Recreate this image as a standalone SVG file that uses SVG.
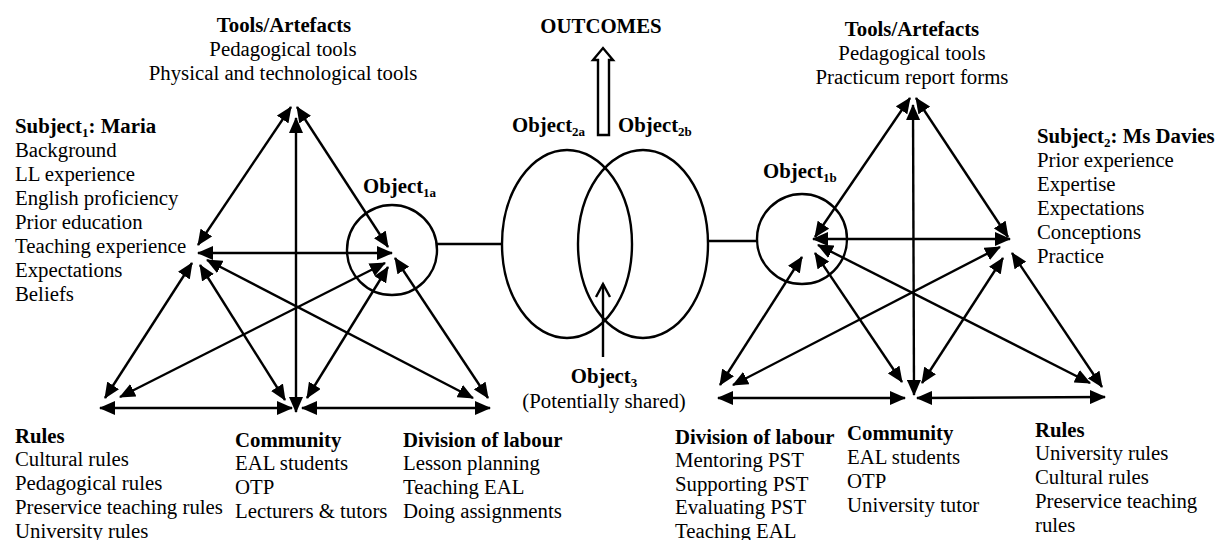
<svg xmlns="http://www.w3.org/2000/svg" width="1217" height="540" viewBox="0 0 1217 540">
<defs>
<style>
text{font-family:"Liberation Serif","Times New Roman",serif;font-size:20.8px;fill:#000}
.b{font-weight:bold}
.sub{font-size:13px;font-weight:bold}
.mid{text-anchor:middle}
.ln{stroke:#000;stroke-width:2.4;fill:none}
.da{stroke:#000;stroke-width:2.4;fill:none;marker-start:url(#ah);marker-end:url(#ah)}
.shape{stroke:#000;stroke-width:2.4;fill:none}
</style>
<marker id="ah" viewBox="0 0 16 14" refX="15" refY="7" markerWidth="16" markerHeight="14" markerUnits="userSpaceOnUse" orient="auto-start-reverse">
<path d="M0,0 L16,7 L0,14 z" fill="#000"/>
</marker>
</defs>
<rect width="1217" height="540" fill="#fff"/>

<g id="connectors">
<!-- left triangle -->
<line class="da" x1="291" y1="107" x2="198" y2="245"/>
<line class="da" x1="297" y1="107" x2="388" y2="247"/>
<line class="da" x1="296" y1="118" x2="296" y2="412"/>
<line class="da" x1="198" y1="253" x2="392" y2="253"/>
<line class="da" x1="192" y1="263" x2="105" y2="398"/>
<line class="da" x1="200" y1="265" x2="285" y2="400"/>
<line class="da" x1="207" y1="260" x2="473" y2="398"/>
<line class="da" x1="385" y1="263" x2="120" y2="397"/>
<line class="da" x1="388" y1="267" x2="307" y2="398"/>
<line class="da" x1="395" y1="258" x2="488" y2="398"/>
<line class="da" x1="100" y1="408" x2="292" y2="408"/>
<line class="da" x1="302" y1="408" x2="490" y2="408"/>
<!-- right triangle -->
<line class="da" x1="910" y1="98" x2="815" y2="237"/>
<line class="da" x1="916" y1="98" x2="1008" y2="237"/>
<line class="da" x1="913" y1="105" x2="914" y2="395"/>
<line class="da" x1="813" y1="239" x2="1010" y2="239"/>
<line class="da" x1="802" y1="257" x2="720" y2="385"/>
<line class="da" x1="815" y1="253" x2="902" y2="382"/>
<line class="da" x1="818" y1="245" x2="1090" y2="383"/>
<line class="da" x1="1000" y1="247" x2="733" y2="385"/>
<line class="da" x1="1003" y1="258" x2="922" y2="383"/>
<line class="da" x1="1012" y1="253" x2="1102" y2="387"/>
<line class="da" x1="718" y1="398" x2="905" y2="398"/>
<line class="da" x1="917" y1="398" x2="1105" y2="397"/>
<!-- links to central objects -->
<line class="ln" x1="437" y1="244" x2="502" y2="244"/>
<line class="ln" x1="708" y1="241" x2="758" y2="241"/>
<!-- object3 arrow -->
<line class="ln" x1="603" y1="357" x2="603" y2="284"/>
<polyline class="ln" points="596,297 603,284 610,297"/>
<!-- outcomes hollow arrow -->
<path class="ln" d="M598,135 L598,60 L593,60 L603,48 L613,60 L609,60 L609,135 Z" stroke-width="2"/>
</g>

<g id="left-tools">
<text class="b mid" x="284" y="32">Tools/Artefacts</text>
<text class="mid" x="283" y="56">Pedagogical tools</text>
<text class="mid" x="283" y="80">Physical and technological tools</text>
</g>
<g id="left-subject">
<text class="b" x="15" y="133">Subject<tspan class="sub" dy="4">1</tspan><tspan dy="-4">: Maria</tspan></text>
<text x="15" y="157">Background</text>
<text x="15" y="181">LL experience</text>
<text x="15" y="205">English proficiency</text>
<text x="15" y="229">Prior education</text>
<text x="15" y="253">Teaching experience</text>
<text x="15" y="277">Expectations</text>
<text x="15" y="301">Beliefs</text>
</g>
<g id="left-object">
<circle class="shape" cx="392" cy="250" r="45"/>
<text class="b" x="363" y="193">Object<tspan class="sub" dy="4">1a</tspan></text>
</g>
<g id="left-rules">
<text class="b" x="15" y="443">Rules</text>
<text x="15" y="466">Cultural rules</text>
<text x="15" y="490">Pedagogical rules</text>
<text x="15" y="514">Preservice teaching rules</text>
<text x="15" y="538">University rules</text>
</g>
<g id="left-community">
<text class="b" x="235" y="447">Community</text>
<text x="235" y="470">EAL students</text>
<text x="235" y="494">OTP</text>
<text x="235" y="518">Lecturers &amp; tutors</text>
</g>
<g id="left-division">
<text class="b" x="403" y="447">Division of labour</text>
<text x="403" y="470">Lesson planning</text>
<text x="403" y="494">Teaching EAL</text>
<text x="403" y="518">Doing assignments</text>
</g>

<g id="outcomes">
<text class="b mid" x="601" y="33">OUTCOMES</text>
</g>
<g id="object2a">
<ellipse class="shape" cx="567" cy="244" rx="65" ry="94"/>
<text class="b" x="512" y="132">Object<tspan class="sub" dy="4">2a</tspan></text>
</g>
<g id="object2b">
<ellipse class="shape" cx="643" cy="244" rx="65" ry="94"/>
<text class="b" x="618" y="132">Object<tspan class="sub" dy="4">2b</tspan></text>
</g>
<g id="object3">
<text class="b mid" x="604" y="383">Object<tspan class="sub" dy="4">3</tspan></text>
<text class="mid" x="604" y="408">(Potentially shared)</text>
</g>

<g id="right-tools">
<text class="b mid" x="912" y="36">Tools/Artefacts</text>
<text class="mid" x="912" y="60">Pedagogical tools</text>
<text class="mid" x="912" y="84">Practicum report forms</text>
</g>
<g id="right-subject">
<text class="b" x="1037" y="143">Subject<tspan class="sub" dy="4">2</tspan><tspan dy="-4">: Ms Davies</tspan></text>
<text x="1037" y="167">Prior experience</text>
<text x="1037" y="191">Expertise</text>
<text x="1037" y="215">Expectations</text>
<text x="1037" y="239">Conceptions</text>
<text x="1037" y="263">Practice</text>
</g>
<g id="right-object">
<circle class="shape" cx="802" cy="239" r="45"/>
<text class="b" x="763" y="178">Object<tspan class="sub" dy="4">1b</tspan></text>
</g>
<g id="right-division">
<text class="b" x="675" y="444">Division of labour</text>
<text x="675" y="467">Mentoring PST</text>
<text x="675" y="491">Supporting PST</text>
<text x="675" y="514">Evaluating PST</text>
<text x="675" y="538">Teaching EAL</text>
</g>
<g id="right-community">
<text class="b" x="847" y="440">Community</text>
<text x="847" y="464">EAL students</text>
<text x="847" y="488">OTP</text>
<text x="847" y="512">University tutor</text>
</g>
<g id="right-rules">
<text class="b" x="1035" y="437">Rules</text>
<text x="1035" y="460">University rules</text>
<text x="1035" y="484">Cultural rules</text>
<text x="1035" y="508">Preservice teaching</text>
<text x="1035" y="532">rules</text>
</g>
</svg>
